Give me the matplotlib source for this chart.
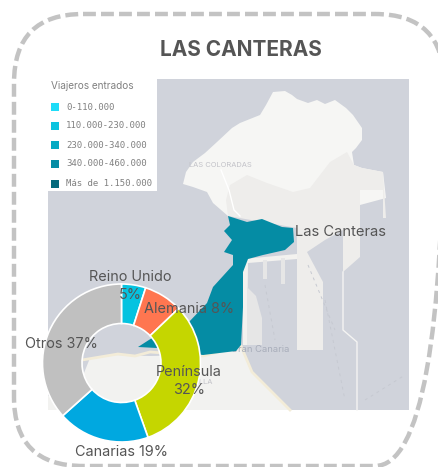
#! /usr/bin/env python3

from matplotlib import pyplot as plt
from matplotlib.patches import FancyBboxPatch, Polygon, Rectangle

plt.rcParams["font.family"] = ["Inter", "DejaVu Sans"]

# donut
shares = [5, 8, 32, 19, 37]
share_colors = ["#05c3e0", "#ff7650", "#c5d600", "#00a8e0", "#c0c0c0"]
share_labels = ["Reino Unido\n5%", "Alemania 8%", "Península\n32%", "Canarias 19%", "Otros 37%"]
label_x = [130, 189, 189, 122, 61]
label_y = [286, 309, 381, 452, 344]

# legend
legend_title = "Viajeros entrados"
legend_labels = ["0-110.000", "110.000-230.000", "230.000-340.000", "340.000-460.000", "Más de 1.150.000"]
legend_colors = ["#1fdcf8", "#0cc3df", "#05aac3", "#058ca4", "#04697c"]
legend_y = [107, 126, 145, 164, 184]

# map shapes, in picture pixels
north_land = [(183, 184), (186, 172), (193, 162), (205, 153), (217, 142), (232, 128), (240, 123), (260, 115),
              (266, 105), (273, 92), (285, 91), (292, 95), (297, 99), (308, 103), (317, 100), (325, 104),
              (335, 100), (346, 108), (353, 115), (362, 128), (362, 140), (356, 148), (352, 152), (354, 165),
              (362, 168), (383, 172), (386, 198), (360, 205), (330, 215), (228, 216), (213, 203), (207, 192),
              (193, 187)]
town_land = [(228, 216), (226, 200), (230, 185), (247, 175), (267, 183), (293, 192), (310, 188), (330, 162),
             (347, 152), (354, 165), (362, 168), (383, 172), (386, 218), (383, 218), (383, 190), (360, 190),
             (360, 257), (343, 272), (343, 230), (325, 240), (307, 252), (323, 282), (323, 350), (297, 350),
             (297, 228)]
city_land = [(48, 396), (82, 378), (90, 358), (115, 355), (150, 356), (203, 355), (241, 346), (252, 372),
             (272, 392), (290, 410), (48, 410)]
pier_strip = [(243, 259), (297, 254), (297, 259), (248, 263), (247, 345), (243, 345)]
pier_fingers = [[(263, 260), (267, 260), (267, 279), (263, 279)],
                [(281, 258), (285, 258), (285, 284), (281, 284)],
                [(247, 287), (256, 296), (262, 318), (262, 345), (247, 345)]]
teal_zone = [(228, 216), (247, 222), (262, 219), (282, 227), (293, 228), (294, 242), (285, 250), (263, 255),
             (248, 259), (243, 272), (243, 307), (241, 345), (236, 351), (203, 355), (157, 348), (138, 347),
             (152, 338), (188, 323), (207, 303), (213, 287), (233, 265), (233, 255), (224, 252), (232, 240),
             (224, 231), (230, 225)]
coast_road_x = [82, 100, 118, 135, 150, 203, 241, 252, 272, 290]
coast_road_y = [360, 357, 354, 356, 352, 356, 346, 372, 392, 410]


def main():

    fig = plt.figure(figsize=(4.39, 4.67), dpi=100)
    ax = fig.add_axes([0, 0, 1, 1])
    ax.set_xlim(0, 439)
    ax.set_ylim(467, 0)
    ax.axis("off")

    # map background
    ax.add_patch(Rectangle((48, 79), 361, 331, color="#d0d3db", lw=0, zorder=1))
    ax.add_patch(Polygon(north_land, color="#f6f6f4", lw=0, zorder=2))
    ax.add_patch(Polygon(town_land, color="#eeedeb", lw=0, zorder=2))
    ax.add_patch(Polygon(city_land, color="#f2f2f0", lw=0, zorder=2))
    ax.add_patch(Polygon(pier_strip, color="#f3f2ef", lw=0, zorder=2))
    for finger in pier_fingers:
        ax.add_patch(Polygon(finger, color="#e6e6e6", lw=0, zorder=2))
    ax.plot(coast_road_x, coast_road_y, color="#f3ecd8", lw=2, zorder=3)
    ax.plot([343, 343, 357, 357], [272, 330, 342, 410], color="#f4f4f2", lw=1, zorder=3)
    ax.plot([221, 229, 234, 240], [170, 190, 210, 216], color="#ffffff", lw=1, zorder=3)
    ax.plot([308, 335], [265, 330], color="#c6c9d1", lw=0.7, ls=(0, (3, 4)), zorder=3)
    ax.plot([325, 345], [300, 400], color="#c6c9d1", lw=0.7, ls=(0, (3, 4)), zorder=3)
    ax.plot([365, 405], [400, 375], color="#c6c9d1", lw=0.7, ls=(0, (3, 4)), zorder=3)
    ax.plot([265, 275], [285, 340], color="#c6c9d1", lw=0.7, ls=(0, (3, 4)), zorder=3)
    ax.text(220, 165, "LAS COLORADAS", color="#c2c2c8", fontsize=5.4, ha="center", va="center", zorder=4)
    ax.text(289, 349, "Las Palmas de Gran Canaria", color="#a9aebb", fontsize=6.8, ha="right", va="center", zorder=4)
    ax.text(205, 382, "ILLA", color="#c2c2c8", fontsize=5.4, ha="center", va="center", zorder=4)

    # teal zone
    ax.add_patch(Polygon(teal_zone, color=legend_colors[3], lw=0, zorder=5))
    ax.text(295, 232, "Las Canteras", color="#555555", fontsize=10.6, ha="left", va="center", zorder=6)

    # legend box
    ax.add_patch(Rectangle((48, 79), 109, 112, color="#ffffff", lw=0, zorder=6))
    ax.text(51, 86, legend_title, color="#808080", fontsize=7.2, ha="left", va="center", zorder=7)
    for label, color, y in zip(legend_labels, legend_colors, legend_y):
        ax.add_patch(Rectangle((51, y - 4), 8, 8, color=color, lw=0, zorder=7))
        ax.text(66, y, label, color="#808080", fontsize=6.5, family="DejaVu Sans Mono",
                ha="left", va="center", zorder=7)

    # title and dashed frame
    ax.text(241, 50, "LAS CANTERAS", color="#555555", fontsize=15, fontweight="bold",
            ha="center", va="center", zorder=7)
    ax.add_patch(FancyBboxPatch((14 + 69, 14 + 69), 430 - 138, 452 - 138, boxstyle="round,pad=69,rounding_size=69",
                                fill=False, edgecolor="#c3c3c3", lw=3.2, ls=(0, (2.9, 1.15)), zorder=8,
                                mutation_aspect=1))

    # donut on its own axes
    radius = 79
    margin = radius * 1.05
    pie_ax = fig.add_axes([(121.5 - margin) / 439, (467 - 363 - margin) / 467, 2 * margin / 439, 2 * margin / 467])
    pie_ax.pie(shares, colors=share_colors, startangle=90, counterclock=False, radius=1,
               wedgeprops={"width": 0.5, "edgecolor": "#ffffff", "linewidth": 1.2})
    pie_ax.set_xlim(-1.05, 1.05)
    pie_ax.set_ylim(-1.05, 1.05)
    pie_ax.patch.set_alpha(0)

    # donut labels sit above the ring
    top_ax = fig.add_axes([0, 0, 1, 1])
    top_ax.set_xlim(0, 439)
    top_ax.set_ylim(467, 0)
    top_ax.axis("off")
    top_ax.patch.set_alpha(0)
    for label, x, y in zip(share_labels, label_x, label_y):
        top_ax.text(x, y, label, color="#555555", fontsize=10.4, ha="center", va="center", linespacing=1.3)

    plt.savefig("out.png", dpi=100)

    return


if __name__ == "__main__":
    main()
